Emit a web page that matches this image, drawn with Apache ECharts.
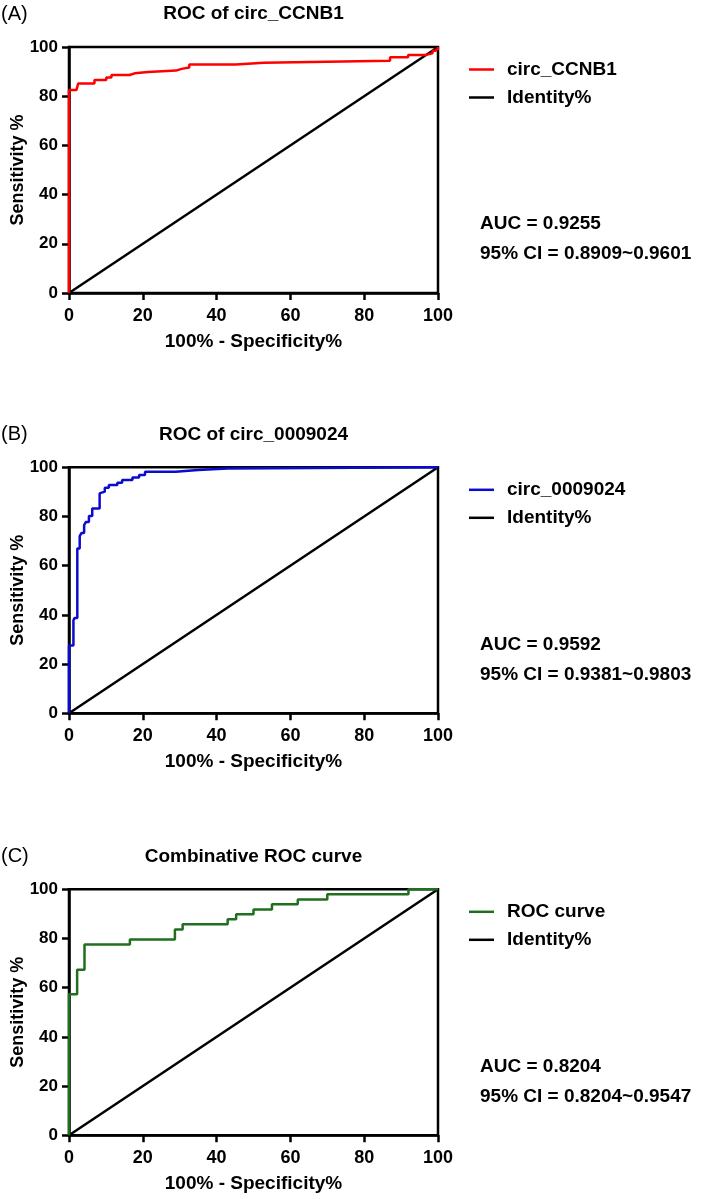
<!DOCTYPE html>
<html>
<head>
<meta charset="utf-8">
<script src="https://cdn.jsdelivr.net/npm/echarts@6/dist/echarts.min.js"></script>
<style>
html,body{margin:0;padding:0;background:#fff;}
#main{width:709px;height:1199px;}
</style>
</head>
<body>
<div id="main"></div>
<script>
// ---- data ----
const panelLetters = ['(A)', '(B)', '(C)'];
const panelTitles = ['ROC of circ_CCNB1', 'ROC of circ_0009024', 'Combinative ROC curve'];
const curveNames = ['circ_CCNB1', 'circ_0009024', 'ROC curve'];
const identityName = 'Identity%';
const aucTexts = ['AUC = 0.9255', 'AUC = 0.9592', 'AUC = 0.8204'];
const ciTexts = ['95% CI = 0.8909~0.9601', '95% CI = 0.9381~0.9803', '95% CI = 0.8204~0.9547'];
const xAxisName = '100% - Specificity%';
const yAxisName = 'Sensitivity %';

const fprA = [0, 0, 2, 2.5, 6.9, 10.1, 11.5, 16.4, 17.8, 21.4, 29, 30.5, 32.6, 45.2, 52.8, 87, 91.9, 96.5, 98.5, 99.3, 100];
const tprA = [0, 82.5, 83.2, 85.2, 86.6, 87.6, 88.6, 89.3, 89.8, 90.4, 91.1, 91.7, 92.9, 93.6, 94.4, 95.8, 96.7, 97.4, 98.5, 99.3, 100];

const fprB = [0, 0, 1.2, 1.5, 2.25, 2.9, 3.4, 4.1, 4.6, 5.4, 6.3, 8.3, 8.8, 9.7, 10.8, 13.1, 14.4, 17.2, 19, 20.6, 28.9, 35, 43, 100];
const tprB = [0, 27.6, 37.8, 38.7, 67, 72, 73.3, 76.5, 77.8, 80.2, 83.3, 89.4, 90.1, 91.7, 92.8, 93.7, 94.8, 95.9, 96.9, 98.2, 98.9, 99.5, 100, 100];

const fprC = [0, 0, 2.2, 4.2, 16.5, 28.7, 30.8, 43, 45.3, 50, 55, 62, 70, 92, 100];
const tprC = [0, 57.3, 67.3, 77.6, 79.6, 83.7, 85.8, 87.8, 89.9, 91.8, 93.9, 95.9, 98, 100, 100];

const identityX = [0, 100];
const identityY = [0, 100];

const xTicks = [0, 20, 40, 60, 80, 100];
const yTicks = [0, 20, 40, 60, 80, 100];

// ---- layout ----
const curveColors = ['#ff0000', '#0b0bd0', '#1f6f1f'];
const FONT = '"Liberation Sans", Arial, sans-serif';
const gridLeft = 69, gridWidth = 369, gridHeight = 246;
const gridTops = [47, 467.3, 889.3];

const zip = (a, b) => a.map((v, i) => [v, b[i]]);
const curves = [zip(fprA, tprA), zip(fprB, tprB), zip(fprC, tprC)];
const identity = zip(identityX, identityY);

const grids = [], xAxes = [], yAxes = [], series = [], legends = [], graphics = [];

gridTops.forEach((top, i) => {
  grids.push({left: gridLeft, top: top, width: gridWidth, height: gridHeight,
    containLabel: false, outerBoundsMode: 'none',
    show: true, borderColor: '#000', borderWidth: 2.5, backgroundColor: 'transparent'});
  xAxes.push({
    gridIndex: i, type: 'value', min: xTicks[0], max: xTicks[xTicks.length - 1], interval: 20,
    name: xAxisName, nameLocation: 'middle', nameGap: 39, nameMoveOverlap: false,
    nameTextStyle: {fontFamily: FONT, fontWeight: 'bold', fontSize: 19, color: '#000'},
    axisLine: {show: true, onZero: false, lineStyle: {color: '#000', width: 2.5}},
    axisTick: {show: true, inside: false, length: 7, lineStyle: {color: '#000', width: 2.5}},
    axisLabel: {margin: 14, fontFamily: FONT, fontWeight: 'bold', fontSize: 18, color: '#000'},
    splitLine: {show: false}
  });
  yAxes.push({
    gridIndex: i, type: 'value', min: yTicks[0], max: yTicks[yTicks.length - 1], interval: 20,
    name: yAxisName, nameLocation: 'middle', nameGap: 42, nameRotate: 90, nameMoveOverlap: false,
    nameTextStyle: {fontFamily: FONT, fontWeight: 'bold', fontSize: 18, color: '#000'},
    axisLine: {show: true, onZero: false, lineStyle: {color: '#000', width: 2.5}},
    axisTick: {show: true, inside: false, length: 7, lineStyle: {color: '#000', width: 2.5}},
    axisLabel: {margin: 11, fontFamily: FONT, fontWeight: 'bold', fontSize: 17, color: '#000'},
    splitLine: {show: false}
  });
  series.push({
    name: identityName, type: 'line', xAxisIndex: i, yAxisIndex: i,
    data: identity, symbol: 'none', lineStyle: {color: '#000', width: 2.5},
    itemStyle: {color: '#000'}, z: 3
  });
  series.push({
    name: curveNames[i], type: 'line', xAxisIndex: i, yAxisIndex: i, step: 'end',
    data: curves[i], symbol: 'none', lineStyle: {color: curveColors[i], width: 2.5},
    itemStyle: {color: curveColors[i]}, z: 4, clip: false
  });
  legends.push({
    data: [curveNames[i], identityName], orient: 'vertical',
    left: 464, top: top + 7, icon: 'rect', itemWidth: 25, itemHeight: 2.5, itemGap: 7,
    selectedMode: false,
    textStyle: {fontFamily: FONT, fontWeight: 'bold', fontSize: 19, lineHeight: 21, color: '#000', padding: [0, 0, 0, 8]}
  });
  graphics.push({type: 'text', left: 1, top: top - 43,
    style: {text: panelLetters[i], font: '20px ' + FONT, fill: '#000'}});
  graphics.push({type: 'text', x: gridLeft + gridWidth / 2, y: top - 33,
    style: {text: panelTitles[i], font: 'bold 19px ' + FONT, fill: '#000', textAlign: 'center', textVerticalAlign: 'middle'}});
  graphics.push({type: 'text', x: 480, y: top + 177,
    style: {text: aucTexts[i], font: 'bold 19px ' + FONT, fill: '#000', textVerticalAlign: 'middle'}});
  graphics.push({type: 'text', x: 480, y: top + 207,
    style: {text: ciTexts[i], font: 'bold 19px ' + FONT, fill: '#000', textVerticalAlign: 'middle'}});
});

const chart = echarts.init(document.getElementById('main'), null, {renderer: 'canvas'});
chart.setOption({
  animation: false,
  backgroundColor: '#fff',
  grid: grids, xAxis: xAxes, yAxis: yAxes, series: series, legend: legends, graphic: graphics
});
</script>
</body>
</html>
